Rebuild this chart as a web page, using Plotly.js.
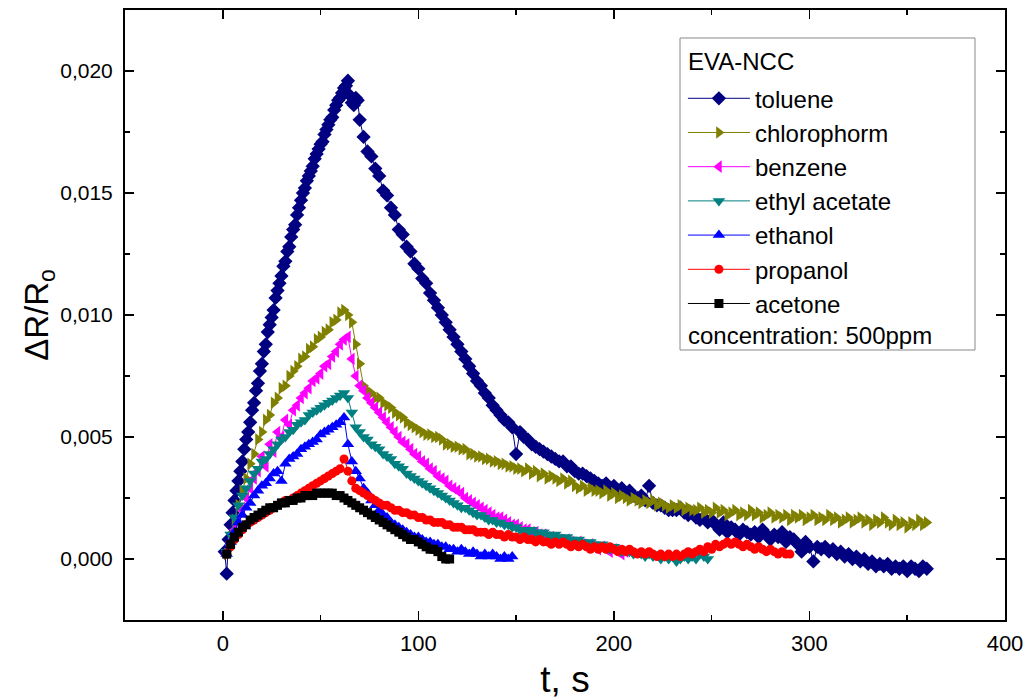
<!DOCTYPE html>
<html>
<head>
<meta charset="utf-8">
<script src="https://cdn.plot.ly/plotly-3.0.1.min.js"></script>
<style>html,body{margin:0;padding:0;background:#fff;}#chart{width:1025px;height:700px;}</style>
</head>
<body>
<div id="chart"></div>
<script>
// sample times (s)
const T1 = [1,2,3,4,5,6,7,8,9,10,11,12,13,14,15,16,17,18,19,20,21,22,23,24,25,26,27,28,29,30,31,32,33,34,35,36,37,38,39,40,41,42,43,44,45,46,47,48,49,50,51,52,53,54,55,56,57,58,59,60,61,62,63,64,65,66,67,68,69,70];
const T2 = [2,4,6,8,10,12,14,16,18,20,22,24,26,28,30,32,34,36,38,40,42,44,46,48,50,52,54,56,58,60,62,64,66,68,70,72,74,76,78,80,82,84,86,88,90,92,94,96,98,100,102,104,106,108,110,112,114,116,118,120,122,124,126,128,130,132,134,136,138,140,142,144,146,148,150,152,154,156,158,160,162,164,166,168,170,172,174,176,178,180,182,184,186,188,190,192,194,196,198,200,202,204,206,208,210,212,214,216,218,220,222,224,226,228,230,232,234,236,238,240,242,244,246,248,250,252,254,256,258,260,262,264,266,268,270,272,274,276,278,280,282,284,286,288,290,292,294,296,298,300,302,304,306,308,310,312,314,316,318,320,322,324,326,328,330,332,334,336,338,340,342,344,346,348,350,352,354,356,358,360];

// toluene: t = 1..70 (1 s), then 72..360 (2 s)
const tolueneRise = [0.0003,-0.0006,0.0008,0.0014,0.0019,0.0024,0.0028,0.0032,0.0036,0.0040,0.0045,0.0049,0.0052,0.0056,0.0061,0.0064,0.0069,0.0072,0.0077,0.0080,0.0085,0.0088,0.0093,0.0096,0.0099,0.0102,0.0107,0.0110,0.0113,0.0116,0.0120,0.0122,0.0126,0.0128,0.0132,0.0135,0.0137,0.0141,0.0144,0.0147,0.0150,0.0152,0.0155,0.0157,0.0159,0.0161,0.0164,0.0166,0.0168,0.0170,0.0171,0.0174,0.0176,0.0178,0.0180,0.0181,0.0184,0.0186,0.0188,0.0189,0.0191,0.0193,0.0194,0.0196,0.0190,0.0187,0.0186,0.0189,0.0188,0.0180];
const tolueneDecay = [0.0173,0.0167,0.0165,0.0160,0.0157,0.0151,0.0149,0.0144,0.0141,0.0135,0.0133,0.0128,0.0126,0.0121,0.0119,0.0115,0.0113,0.0109,0.0106,0.0103,0.0100,0.0097,0.0094,0.0091,0.0088,0.0085,0.0082,0.0079,0.0076,0.0073,0.0071,0.0068,0.0066,0.0063,0.0061,0.0059,0.0057,0.0056,0.0054,0.0043,0.0052,0.0050,0.0049,0.0047,0.0046,0.0045,0.0044,0.0043,0.0042,0.0041,0.0040,0.0040,0.0038,0.0038,0.0036,0.0035,0.0035,0.0034,0.0033,0.0032,0.0031,0.0030,0.0031,0.0029,0.0030,0.0028,0.0029,0.0027,0.0028,0.0026,0.0025,0.0026,0.0024,0.0030,0.0023,0.0022,0.0022,0.0021,0.0020,0.0020,0.0020,0.0021,0.0019,0.0018,0.0019,0.0017,0.0016,0.0017,0.0015,0.0016,0.0014,0.0012,0.0015,0.0011,0.0013,0.0012,0.0010,0.0012,0.0011,0.0010,0.0011,0.0009,0.0012,0.0010,0.0008,0.0010,0.0009,0.0011,0.0007,0.0009,0.0008,0.0006,0.0003,0.0007,0.0005,-0.0001,0.0005,0.0004,0.0005,0.0003,0.0004,0.0002,0.0003,0.0001,0.0002,0.0000,0.0001,-0.0001,0.0000,-0.0002,-0.0001,-0.0003,-0.0002,-0.0003,-0.0002,-0.0004,-0.0003,-0.0004,-0.0003,-0.0005,-0.0003,-0.0004,-0.0005,-0.0003,-0.0004];

// remaining series sampled every 2 s from t = 2
const chlorophorm = [0.0002,0.0009,0.0016,0.0022,0.0028,0.0033,0.0039,0.0043,0.0049,0.0052,0.0057,0.0059,0.0064,0.0066,0.0070,0.0071,0.0075,0.0077,0.0079,0.0082,0.0083,0.0086,0.0087,0.0090,0.0091,0.0093,0.0094,0.0097,0.0098,0.0101,0.0102,0.0100,0.0097,0.0088,0.0080,0.0071,0.0069,0.0068,0.0066,0.0066,0.0064,0.0063,0.0062,0.0060,0.0059,0.0058,0.0056,0.0055,0.0054,0.0053,0.0052,0.0051,0.0051,0.0050,0.0050,0.0049,0.0047,0.0047,0.0046,0.0046,0.0045,0.0045,0.0043,0.0043,0.0042,0.0042,0.0041,0.0041,0.0040,0.0040,0.0039,0.0039,0.0038,0.0038,0.0037,0.0037,0.0036,0.0037,0.0035,0.0036,0.0034,0.0035,0.0033,0.0034,0.0033,0.0032,0.0033,0.0031,0.0032,0.0030,0.0029,0.0030,0.0028,0.0029,0.0028,0.0028,0.0027,0.0028,0.0026,0.0027,0.0025,0.0026,0.0025,0.0024,0.0025,0.0024,0.0023,0.0024,0.0023,0.0024,0.0022,0.0023,0.0022,0.0021,0.0022,0.0021,0.0022,0.0020,0.0021,0.0020,0.0020,0.0021,0.0019,0.0020,0.0019,0.0021,0.0019,0.0020,0.0018,0.0019,0.0020,0.0018,0.0019,0.0018,0.0020,0.0018,0.0019,0.0017,0.0018,0.0019,0.0017,0.0018,0.0017,0.0018,0.0016,0.0018,0.0017,0.0018,0.0016,0.0017,0.0018,0.0016,0.0017,0.0016,0.0018,0.0016,0.0017,0.0015,0.0016,0.0017,0.0015,0.0016,0.0017,0.0015,0.0016,0.0014,0.0016,0.0015,0.0017,0.0015,0.0014,0.0016,0.0014,0.0015,0.0013,0.0015,0.0014,0.0016,0.0014,0.0015];
const benzene = [0.0003,0.0007,0.0012,0.0016,0.0020,0.0025,0.0029,0.0033,0.0036,0.0042,0.0038,0.0047,0.0044,0.0052,0.0050,0.0057,0.0055,0.0061,0.0063,0.0066,0.0068,0.0070,0.0073,0.0074,0.0076,0.0079,0.0080,0.0083,0.0085,0.0088,0.0090,0.0091,0.0082,0.0075,0.0071,0.0069,0.0066,0.0064,0.0062,0.0060,0.0058,0.0056,0.0054,0.0052,0.0050,0.0048,0.0047,0.0045,0.0043,0.0042,0.0040,0.0039,0.0037,0.0036,0.0034,0.0033,0.0032,0.0030,0.0029,0.0028,0.0027,0.0025,0.0024,0.0023,0.0022,0.0021,0.0020,0.0019,0.0018,0.0017,0.0017,0.0016,0.0015,0.0014,0.0014,0.0013,0.0012,0.0012,0.0011,0.0011,0.0010,0.0010,0.0009,0.0009,0.0008,0.0008,0.0007,0.0008,0.0007,0.0006,0.0007,0.0006,0.0005,0.0006,0.0005,0.0004,0.0005,0.0004,0.0003,0.0004,0.0003,0.0002,0.0003];
const ethylAcetate = [0.0003,0.0010,0.0017,0.0022,0.0026,0.0029,0.0032,0.0035,0.0037,0.0040,0.0041,0.0043,0.0045,0.0047,0.0049,0.0050,0.0052,0.0053,0.0055,0.0056,0.0057,0.0059,0.0060,0.0061,0.0062,0.0063,0.0064,0.0065,0.0066,0.0067,0.0068,0.0066,0.0060,0.0054,0.0052,0.0050,0.0049,0.0047,0.0046,0.0045,0.0043,0.0042,0.0041,0.0039,0.0038,0.0037,0.0035,0.0034,0.0033,0.0032,0.0031,0.0030,0.0029,0.0028,0.0027,0.0026,0.0025,0.0024,0.0023,0.0022,0.0021,0.0021,0.0020,0.0019,0.0018,0.0018,0.0017,0.0016,0.0016,0.0015,0.0015,0.0014,0.0014,0.0013,0.0013,0.0012,0.0012,0.0011,0.0012,0.0011,0.0010,0.0011,0.0010,0.0009,0.0010,0.0009,0.0008,0.0009,0.0008,0.0007,0.0008,0.0007,0.0006,0.0007,0.0006,0.0005,0.0006,0.0005,0.0004,0.0005,0.0004,0.0003,0.0004,0.0003,0.0002,0.0003,0.0002,0.0001,0.0002,0.0001,0.0002,0.0000,0.0001,0.0000,0.0001,-0.0001,0.0000,0.0001,0.0000,0.0001,0.0000,0.0002,0.0001,0.0000];
const ethanol = [0.0002,0.0007,0.0011,0.0015,0.0018,0.0021,0.0023,0.0026,0.0028,0.0030,0.0031,0.0033,0.0035,0.0036,0.0032,0.0039,0.0041,0.0042,0.0043,0.0045,0.0046,0.0047,0.0048,0.0049,0.0051,0.0052,0.0053,0.0054,0.0055,0.0056,0.0058,0.0047,0.0040,0.0036,0.0033,0.0029,0.0027,0.0024,0.0022,0.0020,0.0018,0.0017,0.0015,0.0014,0.0013,0.0012,0.0011,0.0010,0.0009,0.0009,0.0008,0.0007,0.0007,0.0006,0.0006,0.0005,0.0005,0.0004,0.0004,0.0003,0.0004,0.0003,0.0002,0.0003,0.0002,0.0001,0.0002,0.0001,0.0002,0.0001,0.0000,0.0001,0.0000,0.0001];
const propanol = [0.0002,0.0005,0.0008,0.0010,0.0012,0.0014,0.0015,0.0016,0.0017,0.0018,0.0019,0.0020,0.0021,0.0022,0.0023,0.0024,0.0024,0.0025,0.0026,0.0027,0.0028,0.0029,0.0030,0.0031,0.0032,0.0033,0.0034,0.0035,0.0036,0.0037,0.0041,0.0036,0.0032,0.0029,0.0028,0.0027,0.0026,0.0025,0.0024,0.0023,0.0022,0.0022,0.0021,0.0020,0.0020,0.0019,0.0019,0.0018,0.0018,0.0017,0.0017,0.0016,0.0016,0.0015,0.0015,0.0015,0.0014,0.0014,0.0013,0.0013,0.0013,0.0012,0.0012,0.0012,0.0011,0.0011,0.0011,0.0010,0.0011,0.0010,0.0010,0.0009,0.0010,0.0009,0.0009,0.0008,0.0009,0.0008,0.0008,0.0007,0.0008,0.0007,0.0007,0.0006,0.0007,0.0006,0.0007,0.0006,0.0005,0.0006,0.0005,0.0006,0.0005,0.0004,0.0005,0.0004,0.0005,0.0004,0.0005,0.0004,0.0003,0.0004,0.0003,0.0004,0.0003,0.0002,0.0003,0.0002,0.0003,0.0002,0.0001,0.0002,0.0001,0.0002,0.0001,0.0002,0.0001,0.0002,0.0003,0.0002,0.0003,0.0004,0.0003,0.0005,0.0004,0.0006,0.0005,0.0006,0.0007,0.0006,0.0007,0.0006,0.0005,0.0006,0.0005,0.0004,0.0005,0.0004,0.0003,0.0004,0.0003,0.0002,0.0003,0.0002,0.0002];
const acetone = [0.0002,0.0006,0.0009,0.0011,0.0013,0.0014,0.0016,0.0017,0.0018,0.0019,0.0020,0.0021,0.0021,0.0022,0.0023,0.0023,0.0024,0.0024,0.0025,0.0025,0.0026,0.0026,0.0026,0.0027,0.0027,0.0027,0.0027,0.0027,0.0026,0.0026,0.0025,0.0024,0.0023,0.0022,0.0021,0.0020,0.0019,0.0018,0.0017,0.0016,0.0015,0.0014,0.0013,0.0012,0.0011,0.0010,0.0009,0.0008,0.0008,0.0007,0.0006,0.0005,0.0004,0.0004,0.0003,0.0001,0.0000,0.0000];

const seriesNames = ['toluene','chlorophorm','benzene','ethyl acetate','ethanol','propanol','acetone'];
const seriesColors = ['#000080','#808000','#FF00FF','#008080','#0000FF','#FF0000','#000000'];
const seriesSymbols = ['diamond','triangle-right','triangle-left','triangle-down','triangle-up','circle','square'];
const seriesSizes = [11,11,11,11,11,9,9];

const tolT = T1.concat(T2.slice(35));
const tolV = tolueneRise.concat(tolueneDecay);
const allY = [tolV, chlorophorm, benzene, ethylAcetate, ethanol, propanol, acetone];
const allX = [tolT].concat([chlorophorm, benzene, ethylAcetate, ethanol, propanol, acetone].map(a => T2.slice(0, a.length)));

const FONT = 'Liberation Sans, Arial, sans-serif';
const traces = allY.map((y, i) => ({
  type: 'scatter', mode: 'lines+markers',
  x: allX[i].slice(0, y.length), y: y,
  name: seriesNames[i], legendgroup: 'g' + i,
  line: {color: seriesColors[i], width: 1},
  marker: {symbol: seriesSymbols[i], size: seriesSizes[i], color: seriesColors[i], line: {width: 0}}
}));

const layout = {
  width: 1025, height: 700,
  margin: {l: 125, r: 20, t: 10, b: 80},
  paper_bgcolor: '#fff', plot_bgcolor: '#fff',
  separators: ',.',
  font: {family: FONT, color: '#000'},
  showlegend: true,
  legend: {
    x: 0.634, y: 0.8915, xanchor: 'left', yanchor: 'top',
    bgcolor: 'rgba(0,0,0,0)', borderwidth: 0,
    font: {family: FONT, size: 24, color: '#000'},
    tracegroupgap: 0, itemwidth: 62, traceorder: 'normal'
  },
  xaxis: {
    range: [-50, 400], tick0: 0, dtick: 100,
    ticks: 'inside', ticklen: 9, tickwidth: 1.5, tickcolor: '#000',
    showline: true, linewidth: 2, linecolor: '#000', mirror: 'allticks',
    showgrid: false, zeroline: false,
    minor: {ticks: 'inside', ticklen: 5, tickwidth: 1.5, tickcolor: '#000', dtick: 50, tick0: 0, showgrid: false},
    tickfont: {family: FONT, size: 22, color: '#000'},
    ticklabelstandoff: 3,
    title: {text: 't, s', font: {family: FONT, size: 37, color: '#000'}, standoff: 14}
  },
  yaxis: {
    range: [-0.0025, 0.0225], tick0: 0, dtick: 0.005, tickformat: '.3f',
    ticks: 'inside', ticklen: 9, tickwidth: 1.5, tickcolor: '#000',
    showline: true, linewidth: 2, linecolor: '#000', mirror: 'allticks',
    showgrid: false, zeroline: false,
    minor: {ticks: 'inside', ticklen: 5, tickwidth: 1.5, tickcolor: '#000', dtick: 0.0025, tick0: 0, showgrid: false},
    tickfont: {family: FONT, size: 21, color: '#000'},
    ticklabelstandoff: 6,
    title: {text: 'ΔR/R<sub>o</sub>', font: {family: FONT, size: 33, color: '#000'}, standoff: 0}
  },
  shapes: [{
    type: 'rect', xref: 'paper', yref: 'paper',
    x0: 0.6307, x1: 0.9659, y0: 0.4426, y1: 0.9541,
    line: {color: '#888', width: 1}, fillcolor: 'rgba(0,0,0,0)'
  }],
  annotations: [{
    xref: 'paper', yref: 'paper', x: 0.6375, y: 0.9148,
    xanchor: 'left', yanchor: 'middle', showarrow: false,
    text: 'EVA-NCC', font: {family: FONT, size: 24, color: '#000'}
  }, {
    xref: 'paper', yref: 'paper', x: 0.6375, y: 0.467,
    xanchor: 'left', yanchor: 'middle', showarrow: false,
    text: 'concentration: 500ppm', font: {family: FONT, size: 24, color: '#000'}
  }]
};

Plotly.newPlot('chart', traces, layout, {displayModeBar: false, staticPlot: true});
</script>
</body>
</html>
